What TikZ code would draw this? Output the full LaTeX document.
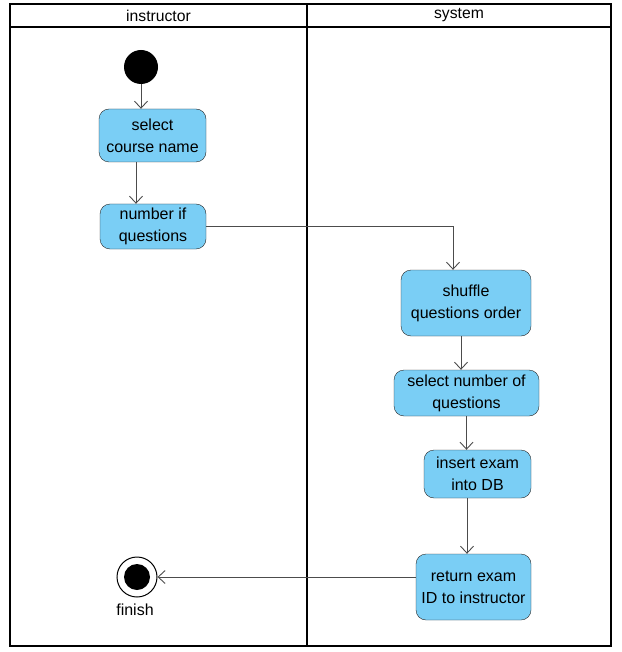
\documentclass[tikz,border=0pt]{standalone}
\usepackage{fontspec}
\setmainfont{Liberation Sans}
\usetikzlibrary{calc, positioning, shapes, arrows.meta}
\definecolor{actblue}{RGB}{122,206,245}
\tikzstyle{activity}=[rectangle, rounded corners=10pt, draw=black!85, fill=actblue, align=center, inner sep=0pt, font=\fontsize{16}{22}\selectfont]
\tikzstyle{flow}=[draw=black!70, line width=0.9pt, -{Straight Barb[length=7pt,width=13pt]}]
\tikzstyle{lane}=[draw=black, line width=1.3pt]
\tikzstyle{head}=[font=\fontsize{15.7}{18}\selectfont]

\begin{document}
\begin{tikzpicture}[x=1pt, y=-1pt]
			\useasboundingbox (0,0) rectangle (621,652);

			% Swimlanes
			\draw[lane] (10,4) rectangle (611,646);
			\draw[lane] (10,27) -- (611,27);
			\draw[line width=2.5pt] (307,4) -- (307,646);
			\node[head] (hinst) at (158.5,15.5) {instructor};
			\node[head] (hsys) at (459,15.5) {system};

			% Start and end states
			\node[circle, fill=black, minimum size=34pt, inner sep=0pt] (start) at (141,67) {};
			\node[circle, draw=black, line width=1pt, fill=white, minimum size=40pt, inner sep=0pt] (finish) at (137,577) {};
			\node[circle, fill=black, minimum size=26pt, inner sep=0pt] (finishdot) at (finish) {};
			\node[font=\fontsize{16}{18}\selectfont] (finishlbl) at (135,610) {finish};

			% Activities
			\node[activity, minimum width=107pt, minimum height=53pt] (course) at (152.5,135.5) {select\\course name};
			\node[activity, minimum width=106pt, minimum height=45pt] (number) at (153,226.5) {number if\\questions};
			\node[activity, minimum width=130pt, minimum height=66pt] (shuffle) at (466,303) {shuffle\\questions order};
			\node[activity, minimum width=145pt, minimum height=46pt] (selnum) at (466.5,393) {select number of\\questions};
			\node[activity, minimum width=107pt, minimum height=48pt] (insert) at (477.5,474) {insert exam\\into DB};
			\node[activity, minimum width=115pt, minimum height=66pt] (return) at (473.5,587) {return exam\\ID to instructor};

			% Control flow
			\draw[flow] (start) -- (start |- course.north);
			\draw[flow] ([xshift=-16.5pt]course.south) -- ([xshift=-16.5pt]course.south |- number.north);
			\draw[flow] (number.east) -| ([xshift=-13pt]shuffle.north);
			\draw[flow] ([xshift=-5pt]shuffle.south) -- ([xshift=-5pt]shuffle.south |- selnum.north);
			\draw[flow] (selnum.south) -- (selnum.south |- insert.north);
			\draw[flow] ([xshift=-10.5pt]insert.south) -- ([xshift=-10.5pt]insert.south |- return.north);
			\draw[flow] ([yshift=10pt]return.west) -- (finish.east);
		\end{tikzpicture}
\end{document}
